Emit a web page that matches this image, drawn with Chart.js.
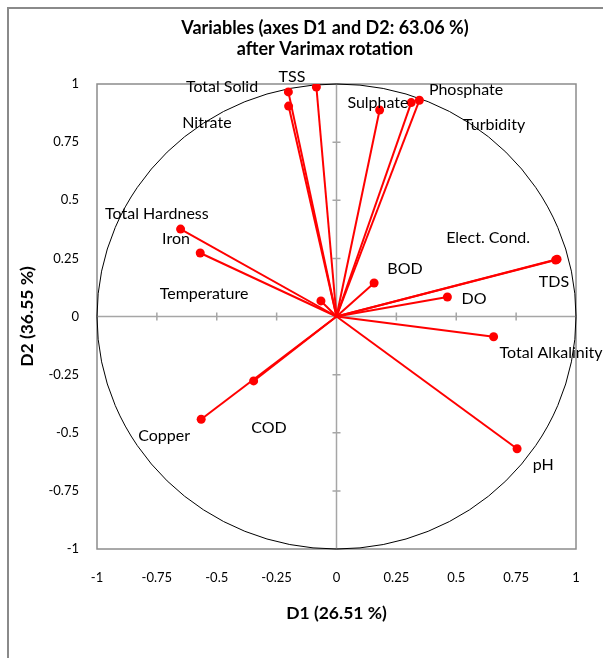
<!DOCTYPE html>
<html>
<head>
<meta charset="utf-8">
<script src="https://cdn.jsdelivr.net/npm/chart.js@4.4.1/dist/chart.umd.min.js"></script>
<style>
  html, body { margin: 0; padding: 0; background: #fff; overflow: hidden; }
  #wrap { position: relative; width: 603px; height: 658px; }
  #frame { position: absolute; left: 7px; top: 7px; width: 700px; height: 700px; border: 2px solid #8a8a8a; box-sizing: border-box; }
  #pca { position: absolute; left: 0; top: 0; }
</style>
</head>
<body>
<div id="wrap">
  <div id="frame"></div>
  <canvas id="pca" width="603" height="658"></canvas>
</div>
<script>
// variables and their loadings on D1 / D2
const variables = ['TSS', 'Total Solid', 'Nitrate', 'Sulphate', 'Phosphate', 'Turbidity',
  'Total Hardness', 'Iron', 'Temperature', 'BOD', 'Elect. Cond.', 'TDS', 'DO',
  'Total Alkalinity', 'pH', 'COD', 'Copper'];
const d1 = [-0.084, -0.201, -0.200, 0.180, 0.346, 0.312, -0.651, -0.569, -0.065, 0.157,
  0.915, 0.921, 0.463, 0.656, 0.754, -0.346, -0.565];
const d2 = [0.987, 0.966, 0.905, 0.888, 0.930, 0.920, 0.376, 0.273, 0.067, 0.144,
  0.243, 0.246, 0.084, -0.087, -0.569, -0.277, -0.442];

// where each name is written (D1 / D2 units)
const labelD1 = [-0.186, -0.478, -0.541, 0.173, 0.541, 0.658, -0.750, -0.670, -0.553, 0.286,
  0.633, 0.908, 0.574, 0.896, 0.863, -0.282, -0.720];
const labelD2 = [1.032, 0.989, 0.831, 0.920, 0.976, 0.824, 0.441, 0.333, 0.097, 0.204,
  0.337, 0.148, 0.075, -0.157, -0.639, -0.480, -0.514];

const tickValues = [-1, -0.75, -0.5, -0.25, 0, 0.25, 0.5, 0.75, 1];
const titleLines = ['Variables (axes D1 and D2: 63.06 %)', 'after Varimax rotation'];

const FONT = 'Lato, "Open Sans", sans-serif';

const datasets = variables.map((name, i) => ({
  label: name,
  data: [{ x: 0, y: 0 }, { x: d1[i], y: d2[i] }],
  showLine: true,
  borderColor: '#ff0000',
  backgroundColor: '#ff0000',
  borderWidth: 2,
  pointRadius: [0, 4.5],
  pointHoverRadius: [0, 4.5],
  pointBorderWidth: 0
}));

// plot border, the two axes through the origin, and the unit circle
const backdrop = {
  id: 'backdrop',
  beforeDatasetsDraw(chart) {
    const { ctx, chartArea: a, scales: { x, y } } = chart;
    const x0 = x.getPixelForValue(0);
    const y0 = y.getPixelForValue(0);
    ctx.save();

    ctx.strokeStyle = '#8c8c8c';
    ctx.lineWidth = 1.5;
    ctx.strokeRect(a.left, a.top, a.right - a.left, a.bottom - a.top);

    ctx.strokeStyle = '#a6a6a6';
    ctx.lineWidth = 1.5;
    ctx.beginPath();
    ctx.moveTo(a.left, y0); ctx.lineTo(a.right, y0);
    ctx.moveTo(x0, a.top); ctx.lineTo(x0, a.bottom);
    tickValues.forEach(v => {
      if (v === 0) return;
      const px = x.getPixelForValue(v);
      const py = y.getPixelForValue(v);
      ctx.moveTo(px, y0 - 4); ctx.lineTo(px, y0 + 4);
      ctx.moveTo(x0 - 4, py); ctx.lineTo(x0 + 4, py);
    });
    ctx.stroke();

    const rx = x.getPixelForValue(1) - x0;
    const ry = y0 - y.getPixelForValue(1);
    ctx.strokeStyle = '#000';
    ctx.lineWidth = 1;
    ctx.beginPath();
    ctx.ellipse(x0, y0, rx, ry, 0, 0, Math.PI * 2);
    ctx.stroke();
    ctx.restore();
  },
  afterDatasetsDraw(chart) {
    const { ctx, scales: { x, y } } = chart;
    ctx.save();
    ctx.fillStyle = '#000';
    ctx.font = '16px ' + FONT;
    ctx.textAlign = 'center';
    ctx.textBaseline = 'middle';
    variables.forEach((name, i) => {
      ctx.fillText(name, x.getPixelForValue(labelD1[i]), y.getPixelForValue(labelD2[i]));
    });
    ctx.restore();
  },
  afterDraw(chart) {
    const { ctx } = chart;
    ctx.save();
    ctx.fillStyle = '#000';
    ctx.font = 'bold 18px ' + FONT;
    ctx.textAlign = 'center';
    ctx.textBaseline = 'middle';
    titleLines.forEach((t, i) => ctx.fillText(t, 325, 28 + i * 21));
    ctx.restore();
  }
};

const tickFont = { family: FONT, size: 13 };
const axisTitleFont = { family: FONT, size: 17.5, weight: 'bold' };

new Chart(document.getElementById('pca'), {
  type: 'scatter',
  data: { datasets },
  options: {
    responsive: false,
    animation: false,
    devicePixelRatio: 1,
    layout: { padding: { top: 84, right: 27, left: 0, bottom: 0 } },
    plugins: {
      legend: { display: false },
      tooltip: { enabled: false },
      title: { display: false }
    },
    scales: {
      x: {
        type: 'linear',
        min: -1,
        max: 1,
        grid: { display: false, drawTicks: false },
        border: { display: false },
        ticks: {
          stepSize: 0.25,
          color: '#000',
          font: tickFont,
          padding: 21,
          maxRotation: 0,
          autoSkip: false,
          callback: v => String(v)
        },
        title: {
          display: true,
          text: 'D1 (26.51 %)',
          color: '#000',
          font: axisTitleFont,
          padding: { top: 0, bottom: 34 }
        },
        afterFit: s => { s.height = 109; }
      },
      y: {
        type: 'linear',
        min: -1,
        max: 1,
        grid: { display: false, drawTicks: false },
        border: { display: false },
        ticks: {
          stepSize: 0.25,
          color: '#000',
          font: tickFont,
          padding: 18,
          autoSkip: false,
          callback: v => String(v)
        },
        title: {
          display: true,
          text: 'D2 (36.55 %)',
          color: '#000',
          font: axisTitleFont,
          padding: { top: 17, bottom: 0 }
        },
        afterFit: s => { s.width = 97; }
      }
    }
  },
  plugins: [backdrop]
});
</script>
</body>
</html>
